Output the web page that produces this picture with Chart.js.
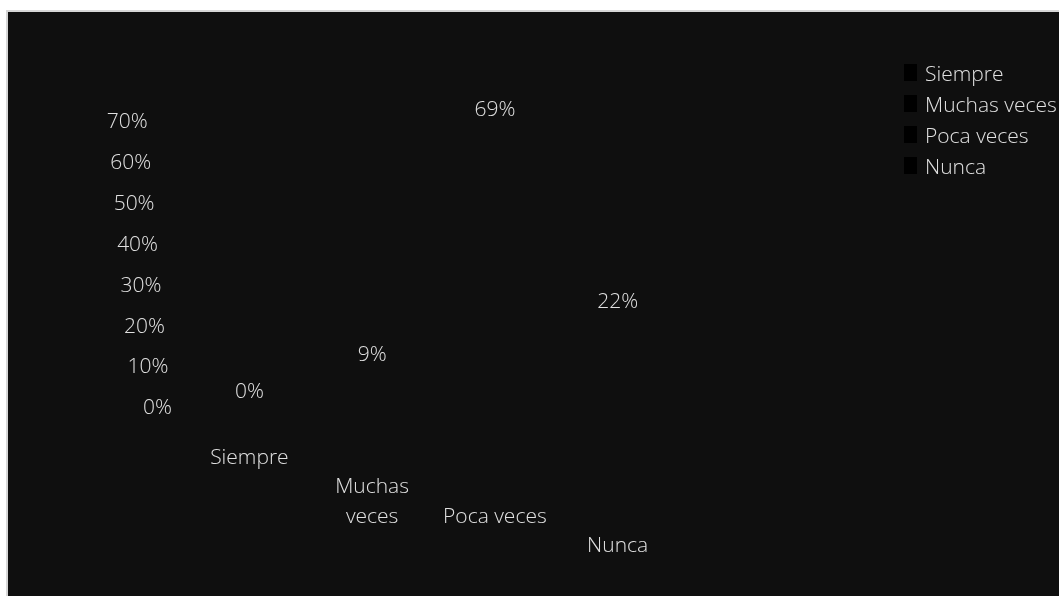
<!DOCTYPE html>
<html>
<head>
<meta charset="utf-8">
<script src="https://cdn.jsdelivr.net/npm/chart.js@4"></script>
<style>
  html, body { margin: 0; padding: 0; background: #fff; overflow: hidden; }
  #box {
    position: absolute; left: 6px; top: 10px;
    width: 1100px; height: 620px;
    border: 2px solid #d6d6d6; background: #0f0f0f;
    overflow: hidden;
  }
  #grafico { position: absolute; left: 0; top: 0; }
  #leyenda {
    position: absolute; left: 896px; top: 0;
    font-family: "Open Sans", sans-serif; font-weight: 300;
    font-size: 21px; color: #e0e0e0; white-space: nowrap;
  }
  .item { position: absolute; left: 0; height: 30px; line-height: 30px; }
  .caja { position: absolute; left: 0; top: 6px; width: 13px; height: 17px; background: #000; }
  .texto { position: absolute; left: 21px; top: 0; }
</style>
</head>
<body>
<div id="box">
  <canvas id="grafico" width="1051" height="584"></canvas>
  <div id="leyenda"></div>
</div>
<script>
// categorías y valores (% de respuestas)
const categorias = ['Siempre', 'Muchas veces', 'Poca veces', 'Nunca'];
const valores = [0, 9, 69, 22];

// etiquetas del eje x, escalonadas como en el original
const etiquetasX = [
  ['Siempre'],
  ['', 'Muchas', 'veces'],
  ['', '', 'Poca veces'],
  ['', '', '', 'Nunca']
];

const colorTexto = '#e0e0e0';
const fuente = { family: '"Open Sans", sans-serif', weight: '300', size: 21, lineHeight: 1.4 };

// leyenda en html
const leyenda = document.getElementById('leyenda');
categorias.forEach((c, i) => {
  const d = document.createElement('div');
  d.className = 'item';
  d.style.top = (46 + i * 31) + 'px';
  d.innerHTML = '<span class="caja"></span><span class="texto">' + c + '</span>';
  leyenda.appendChild(d);
});

// dibuja el % encima de cada barra
const etiquetasDatos = {
  id: 'etiquetasDatos',
  afterDatasetsDraw(chart) {
    const ctx = chart.ctx;
    const meta = chart.getDatasetMeta(0);
    ctx.save();
    ctx.fillStyle = colorTexto;
    ctx.font = '300 21px "Open Sans", sans-serif';
    ctx.textAlign = 'center';
    ctx.textBaseline = 'bottom';
    meta.data.forEach((barra, i) => {
      ctx.fillText(valores[i] + '%', barra.x, barra.y - 6);
    });
    ctx.restore();
  }
};

const ctx = document.getElementById('grafico').getContext('2d');
const grafico = new Chart(ctx, {
  type: 'bar',
  data: {
    labels: etiquetasX,
    datasets: [{
      label: 'Respuestas',
      data: valores,
      backgroundColor: 'rgba(0,0,0,0)'
    }]
  },
  options: {
    responsive: false,
    animation: false,
    layout: { padding: { top: 110, left: 80, right: 380, bottom: 0 } },
    plugins: {
      legend: { display: false },
      tooltip: { enabled: false }
    },
    scales: {
      y: {
        min: 0,
        max: 70,
        afterFit(scale) { scale.width = 100; },
        grid: { display: false, drawTicks: false },
        border: { display: false },
        ticks: {
          stepSize: 10,
          color: colorTexto,
          font: fuente,
          padding: 16,
          callback: (v, i) => v + '%' + '\u2009'.repeat(i)
        }
      },
      x: {
        grid: { display: false, drawTicks: false },
        border: { display: false },
        ticks: {
          color: colorTexto,
          font: fuente,
          padding: 35,
          maxRotation: 0,
          autoSkip: false
        }
      }
    }
  },
  plugins: [etiquetasDatos]
});
</script>
</body>
</html>
